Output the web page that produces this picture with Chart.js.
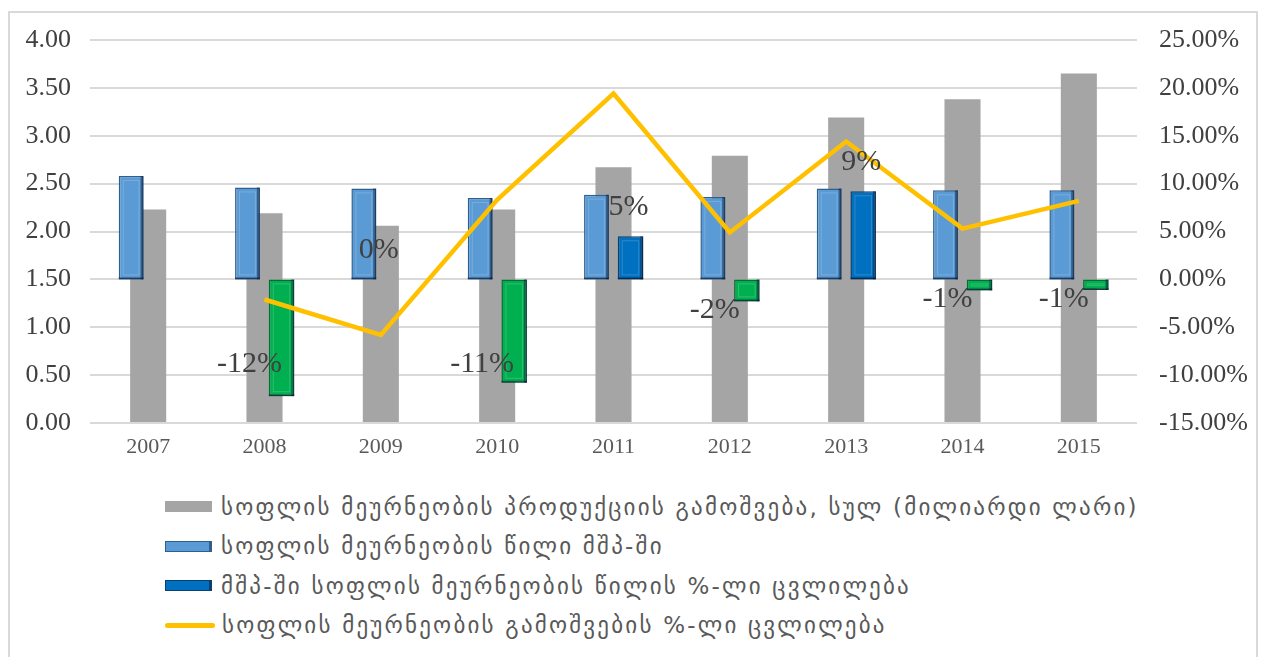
<!DOCTYPE html>
<html>
<head>
<meta charset="utf-8">
<script src="https://cdn.jsdelivr.net/npm/chart.js@4.4.1/dist/chart.umd.min.js"></script>
<style>
  html, body { margin: 0; padding: 0; background: #fff; }
  #wrap { position: relative; width: 1268px; height: 657px; overflow: hidden; }
  #frame { position: absolute; left: 8px; top: 11px; width: 1250px; height: 700px; border: 2px solid #d9d9d9; box-sizing: border-box; }
  #cv { position: absolute; left: 0; top: 0; }
  #legend { position: absolute; left: 165px; top: 487px; font-family: "DejaVu Sans", sans-serif; font-size: 23px; color: #595959; }
  .li { display: flex; align-items: center; height: 39.5px; white-space: nowrap; letter-spacing: 2.2px; }
  .sw { width: 47px; height: 11px; margin-right: 9px; box-sizing: border-box; flex: none; }
  .ln { width: 50px; height: 5px; border-radius: 3px; margin-right: 7px; flex: none; }
</style>
</head>
<body>
<div id="wrap">
  <div id="frame"></div>
  <canvas id="cv" width="1268" height="470"></canvas>
  <div id="legend"></div>
</div>
<script>
const categories = ['2007','2008','2009','2010','2011','2012','2013','2014','2015'];
// Agricultural output total (billion GEL) - left axis
const outputTotal = [2.23, 2.19, 2.06, 2.23, 2.67, 2.79, 3.19, 3.38, 3.65];
// Agriculture share in GDP (%) - right axis
const shareGDP = [10.8, 9.6, 9.5, 8.5, 8.85, 8.6, 9.5, 9.3, 9.3];
// % change of agriculture share in GDP - right axis
const shareChange = [null, -12.2, 0, -10.8, 4.5, -2.3, 9.2, -1.15, -1.1];
const shareChangeLabels = [null, '-12%', '0%', '-11%', '5%', '-2%', '9%', '-1%', '-1%'];
// % change of agricultural output - right axis
const outputChange = [null, -2.1, -5.8, 8.3, 19.4, 4.9, 14.4, 5.3, 8.2];

const seriesNames = [
  'სოფლის მეურნეობის პროდუქციის გამოშვება, სულ (მილიარდი ლარი)',
  'სოფლის მეურნეობის წილი მშპ-ში',
  'მშპ-ში სოფლის მეურნეობის წილის %-ლი ცვლილება',
  'სოფლის მეურნეობის გამოშვების %-ლი ცვლილება'
];

const GRAY = '#a5a5a5', LBLUE = '#5b9bd5', DBLUE = '#0070c0', GREEN = '#00b050', YELLOW = '#ffc000';

const labelPlugin = {
  id: 'changeLabels',
  afterDatasetsDraw(chart) {
    const meta = chart.getDatasetMeta(2);
    const ctx = chart.ctx;
    ctx.save();
    ctx.font = '30px "Liberation Serif", serif';
    ctx.fillStyle = '#404040';
    ctx.textAlign = 'center';
    ctx.textBaseline = 'middle';
    const zero = chart.scales.y2.getPixelForValue(0);
    meta.data.forEach((el, i) => {
      const v = shareChange[i];
      if (v === null || v === undefined) return;
      const txt = shareChangeLabels[i];
      let x, y;
      if (v > 0) { x = el.x - 2; y = el.y - 29; }
      else if (v === 0) { x = el.x - 19; y = zero - 29; }
      else { x = el.x - 32; y = Math.min(el.y + 9, zero + 85); }
      ctx.fillText(txt, x, y);
    });
    ctx.restore();
  }
};

const bevelPlugin = {
  id: 'bevel',
  afterDatasetDraw(chart, args) {
    if (args.index !== 1 && args.index !== 2) return;
    const ctx = chart.ctx;
    ctx.save();
    args.meta.data.forEach((el) => {
      if (!el || el.skip) return;
      const left = el.x - el.width / 2, right = el.x + el.width / 2;
      const top = Math.min(el.y, el.base), bot = Math.max(el.y, el.base);
      if (bot - top < 3) return;
      ctx.strokeStyle = 'rgba(255,255,255,0.18)';
      ctx.lineWidth = 1;
      ctx.strokeRect(left + 4.5, top + 4.5, Math.max(0, el.width - 9), Math.max(0, bot - top - 9));
      ctx.fillStyle = 'rgba(0,20,50,0.45)';
      ctx.fillRect(right - 3, top, 3, bot - top);
      ctx.fillRect(left, bot - 2, el.width, 2);
    });
    ctx.restore();
  }
};

const ctx = document.getElementById('cv').getContext('2d');
new Chart(ctx, {
  data: {
    labels: categories,
    datasets: [
      {
        type: 'bar', label: seriesNames[0], data: outputTotal, yAxisID: 'y',
        backgroundColor: GRAY, grouped: false, categoryPercentage: 1, barPercentage: 0.31, order: 3
      },
      {
        type: 'bar', label: seriesNames[1], data: shareGDP, yAxisID: 'y2',
        backgroundColor: LBLUE, borderColor: '#2f5f8f', borderWidth: 1.5, borderSkipped: false,
        categoryPercentage: 0.585, barPercentage: 0.73, order: 2
      },
      {
        type: 'bar', label: seriesNames[2], data: shareChange, yAxisID: 'y2',
        backgroundColor: shareChange.map(v => (v !== null && v < 0) ? GREEN : DBLUE),
        borderColor: shareChange.map(v => (v !== null && v < 0) ? '#0a6b34' : '#0b3f70'),
        borderWidth: 1.5, borderSkipped: false,
        categoryPercentage: 0.585, barPercentage: 0.75, order: 2
      },
      {
        type: 'line', label: seriesNames[3], data: outputChange, yAxisID: 'y2',
        borderColor: YELLOW, borderWidth: 4.5, pointRadius: 0, tension: 0, fill: false, order: 0,
        spanGaps: false
      }
    ]
  },
  options: {
    responsive: false,
    animation: false,
    layout: { padding: { top: 40, left: 0, right: 0, bottom: 0 } },
    plugins: { legend: { display: false }, tooltip: { enabled: false } },
    scales: {
      x: {
        grid: { display: false, drawTicks: false },
        border: { display: false },
        ticks: { color: '#595959', font: { family: '"Liberation Serif", serif', size: 22 }, padding: 11 },
        afterFit(s) { s.height = 47; }
      },
      y: {
        position: 'left', min: 0, max: 4,
        grid: { color: '#d9d9d9', lineWidth: 2, drawTicks: false },
        border: { display: false },
        ticks: {
          stepSize: 0.5, color: '#404040', padding: 19,
          font: { family: '"Liberation Serif", serif', size: 26 },
          callback: v => Number(v).toFixed(2)
        },
        afterFit(s) { s.width = 90; }
      },
      y2: {
        position: 'right', min: -15, max: 25,
        grid: { display: false, drawTicks: false },
        border: { display: false },
        ticks: {
          stepSize: 5, color: '#404040', padding: 22,
          font: { family: '"Liberation Serif", serif', size: 26 },
          callback: v => Number(v).toFixed(2) + '%'
        },
        afterFit(s) { s.width = 131; }
      }
    }
  },
  plugins: [labelPlugin, bevelPlugin]
});

const legend = document.getElementById('legend');
const swatches = [
  '<div class="sw" style="background:' + GRAY + '"></div>',
  '<div class="sw" style="background:' + LBLUE + ';border:1.5px solid #2f5f8f;border-right-width:3px"></div>',
  '<div class="sw" style="background:' + DBLUE + ';border:1.5px solid #0b3f70;border-right-width:3px"></div>',
  '<div class="ln" style="background:' + YELLOW + '"></div>'
];
seriesNames.forEach((n, i) => {
  const d = document.createElement('div');
  d.className = 'li';
  d.innerHTML = swatches[i] + '<span>' + n + '</span>';
  legend.appendChild(d);
});
</script>
</body>
</html>
